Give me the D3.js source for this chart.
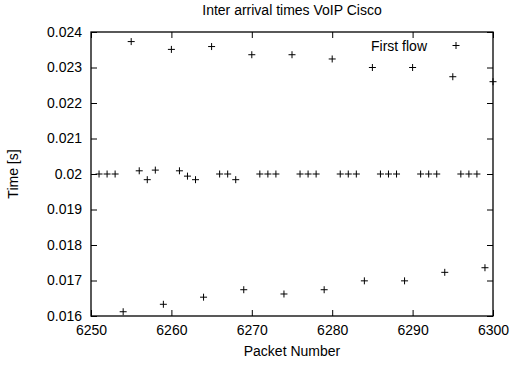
<!DOCTYPE html>
<html>
<head>
<meta charset="utf-8">
<script src="https://cdn.jsdelivr.net/npm/d3@7"></script>
<style>
  body { margin: 0; background: #fff; }
  text { font-family: "Liberation Sans", Arial, sans-serif; fill: #000; }
</style>
</head>
<body>
<svg width="512" height="365"></svg>
<script>
const TITLE = 'Inter arrival times VoIP Cisco';
const X_LABEL = 'Packet Number';
const Y_LABEL = 'Time [s]';
const SERIES_NAME = 'First flow';

const xTicks = [6250, 6260, 6270, 6280, 6290, 6300];
const yTicks = [0.016, 0.017, 0.018, 0.019, 0.02, 0.021, 0.022, 0.023, 0.024];

// packet number -> inter arrival time (s)
const packets = [
  6251, 6252, 6253, 6254, 6255, 6256, 6257, 6258, 6259, 6260,
  6261, 6262, 6263, 6264, 6265, 6266, 6267, 6268, 6269, 6270,
  6271, 6272, 6273, 6274, 6275, 6276, 6277, 6278, 6279, 6280,
  6281, 6282, 6283, 6284, 6285, 6286, 6287, 6288, 6289, 6290,
  6291, 6292, 6293, 6294, 6295, 6296, 6297, 6298, 6299, 6300
];
const times = [
  0.02, 0.02, 0.02, 0.01612, 0.02373, 0.02009, 0.01984, 0.02011, 0.01633, 0.02351,
  0.02009, 0.01994, 0.01984, 0.01653, 0.02359, 0.02, 0.02, 0.01984, 0.01674, 0.02336,
  0.02, 0.02, 0.02, 0.01662, 0.02336, 0.02, 0.02, 0.02, 0.01674, 0.02324,
  0.02, 0.02, 0.02, 0.01699, 0.023, 0.02, 0.02, 0.02, 0.01699, 0.023,
  0.02, 0.02, 0.02, 0.01723, 0.02274, 0.02, 0.02, 0.02, 0.01736, 0.0226
];

const mLeft = 91, mRight = 493, mTop = 32, mBottom = 316;
const TICK = 6, ARM = 3.5, FONT = 14;

const svg = d3.select('svg');

const x = d3.scaleLinear().domain([6250, 6300]).range([mLeft, mRight]);
const y = d3.scaleLinear().domain([0.016, 0.024]).range([mBottom, mTop]);

const fmtY = d => d === 0.02 ? '0.02' : d3.format('.3f')(d);

// bottom + mirrored top axis, ticks pointing inward
svg.append('g')
  .attr('transform', `translate(0,${mBottom})`)
  .call(d3.axisBottom(x).tickValues(xTicks).tickSize(-TICK).tickPadding(TICK + 3).tickFormat(d3.format('d')))
  .call(g => g.select('.domain').remove())
  .call(g => g.selectAll('text').attr('font-size', FONT).attr('font-family', null));

svg.append('g')
  .attr('transform', `translate(0,${mTop})`)
  .call(d3.axisTop(x).tickValues(xTicks).tickSize(-TICK).tickFormat(''))
  .call(g => g.select('.domain').remove());

svg.append('g')
  .attr('transform', `translate(${mLeft},0)`)
  .call(d3.axisLeft(y).tickValues(yTicks).tickSize(-TICK).tickPadding(TICK + 3).tickFormat(fmtY))
  .call(g => g.select('.domain').remove())
  .call(g => g.selectAll('text').attr('font-size', FONT).attr('font-family', null));

svg.append('g')
  .attr('transform', `translate(${mRight},0)`)
  .call(d3.axisRight(y).tickValues(yTicks).tickSize(-TICK).tickFormat(''))
  .call(g => g.select('.domain').remove());

svg.selectAll('.tick line').attr('stroke', '#000').attr('stroke-width', 1);

svg.append('rect')
  .attr('x', mLeft).attr('y', mTop)
  .attr('width', mRight - mLeft).attr('height', mBottom - mTop)
  .attr('fill', 'none').attr('stroke', '#000').attr('stroke-width', 1.3);

const plus = (cx, cy) => `M${cx - ARM},${cy}H${cx + ARM}M${cx},${cy - ARM}V${cy + ARM}`;

svg.append('g')
  .selectAll('path')
  .data(packets)
  .join('path')
  .attr('d', (p, i) => plus(x(p), y(times[i])))
  .attr('stroke', '#000')
  .attr('stroke-width', 1)
  .attr('fill', 'none');

// key
svg.append('text')
  .attr('x', 427).attr('y', 51)
  .attr('text-anchor', 'end')
  .attr('font-size', FONT)
  .text(SERIES_NAME);
svg.append('path')
  .attr('d', plus(456, 45.5))
  .attr('stroke', '#000').attr('fill', 'none');

svg.append('text')
  .attr('x', (mLeft + mRight) / 2).attr('y', 15)
  .attr('text-anchor', 'middle')
  .attr('font-size', FONT)
  .text(TITLE);

svg.append('text')
  .attr('x', (mLeft + mRight) / 2).attr('y', 356)
  .attr('text-anchor', 'middle')
  .attr('font-size', FONT)
  .text(X_LABEL);

svg.append('text')
  .attr('transform', `translate(18,${(mTop + mBottom) / 2}) rotate(-90)`)
  .attr('text-anchor', 'middle')
  .attr('font-size', FONT)
  .text(Y_LABEL);
</script>
</body>
</html>
